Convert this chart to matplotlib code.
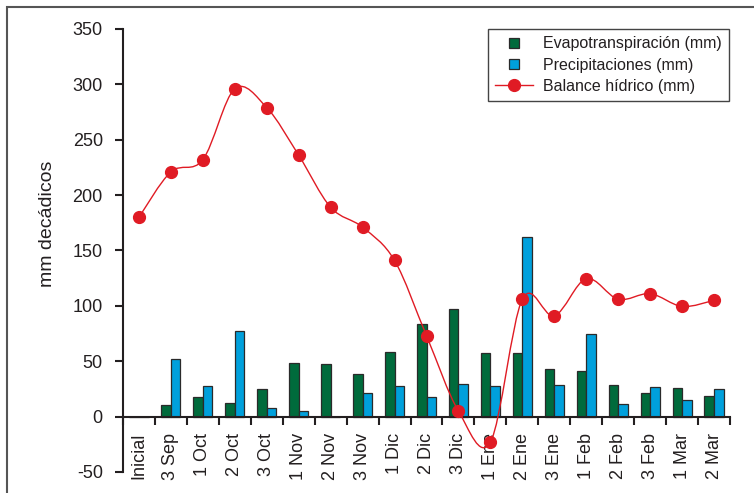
import numpy as np
import matplotlib
matplotlib.use('Agg')
from matplotlib import pyplot as plt
from matplotlib.path import Path
from matplotlib.patches import PathPatch, Rectangle
from matplotlib.lines import Line2D

plt.rcParams['font.family'] = ['Liberation Sans', 'DejaVu Sans']
plt.rcParams['axes.unicode_minus'] = False

periodos = ['Inicial', '3 Sep', '1 Oct', '2 Oct', '3 Oct', '1 Nov', '2 Nov', '3 Nov',
            '1 Dic', '2 Dic', '3 Dic', '1 Ene', '2 Ene', '3 Ene', '1 Feb', '2 Feb',
            '3 Feb', '1 Mar', '2 Mar']
evapo = [0, 10.5, 18, 12.6, 25.3, 48.4, 47.2, 38.8, 58.4, 83.6, 96.9, 57.2, 57.2,
         42.7, 40.9, 28.9, 21.4, 26.2, 18.4]
precip = [0, 51.7, 27.7, 77.3, 8.1, 5.1, 0, 21.4, 27.7, 17.4, 29.2, 27.4, 162,
          28.9, 74.6, 11.4, 26.5, 15, 25]
balance = [180, 221, 232, 296, 279, 236, 189, 171, 141, 73, 5, -23, 106, 91, 124.5,
           106, 111, 99.5, 105]

verde = '#006b3c'
azul = '#00a0dc'
rojo = '#e01b24'
oscuro = '#231f20'

fig = plt.figure(figsize=(7.54, 4.93), dpi=100)
ax = fig.add_axes([0.1631, 0.0426, 0.8051, 0.8986])

x = np.arange(len(periodos))
w = 0.3
ax.bar(x - w / 2, evapo, w, color=verde, edgecolor='#2a2a2a', linewidth=0.9, zorder=2)
ax.bar(x + w / 2, precip, w, color=azul, edgecolor='#2a2a2a', linewidth=0.9, zorder=2)

# smoothed line (Catmull-Rom as bezier segments)
pts = np.column_stack([x, balance]).astype(float)
ext = np.vstack([pts[0], pts, pts[-1]])
verts = [tuple(pts[0])]
codes = [Path.MOVETO]
for i in range(len(pts) - 1):
    p0, p1, p2, p3 = ext[i], ext[i + 1], ext[i + 2], ext[i + 3]
    c1 = p1 + (p2 - p0) / 6
    c2 = p2 - (p3 - p1) / 6
    verts += [tuple(c1), tuple(c2), tuple(p2)]
    codes += [Path.CURVE4] * 3
ax.add_patch(PathPatch(Path(verts, codes), fill=False, edgecolor=rojo, lw=1.0, zorder=3))
ax.plot(x, balance, ls='none', marker='o', ms=8.5, color=rojo, zorder=4)

ax.set_xlim(-0.5, 18.5)
ax.set_ylim(-50, 350)
ax.set_yticks(np.arange(-50, 351, 50))
ax.set_xticks(x)
ax.set_xticks(np.arange(-0.5, 19, 1), minor=True)

for s in ['top', 'right']:
    ax.spines[s].set_visible(False)
ax.spines['bottom'].set_position(('data', 0))
ax.spines['bottom'].set_linewidth(1.5)
ax.spines['left'].set_linewidth(1.5)
ax.spines['bottom'].set_color(oscuro)
ax.spines['left'].set_color(oscuro)

ax.tick_params(axis='x', which='major', length=0, pad=11.5, labelsize=13,
               labelcolor=oscuro, labelrotation=90)
ax.tick_params(axis='x', which='minor', length=6, width=1.5, color=oscuro, direction='out')
ax.tick_params(axis='y', length=6, width=1.5, color=oscuro, pad=8.5, labelsize=13,
               labelcolor=oscuro)
ax.set_xticklabels(periodos)
for t in ax.get_xticklabels():
    t.set_va('top')
    t.set_ha('center')

fig.text(47.5 / 754, 1 - 223.5 / 493, 'mm decádicos', rotation=90, ha='center',
         va='center', fontsize=14, color=oscuro)

handles = [
    Line2D([], [], ls='none', marker='s', ms=7, mfc=verde, mec='#2a2a2a', mew=0.9),
    Line2D([], [], ls='none', marker='s', ms=7, mfc=azul, mec='#2a2a2a', mew=0.9),
    Line2D([], [], color=rojo, lw=1.0, marker='o', ms=8.5),
]
leg = ax.legend(handles, ['Evapotranspiración (mm)', 'Precipitaciones (mm)',
                          'Balance hídrico (mm)'],
                loc='upper right', bbox_to_anchor=(0.998, 1.0), borderaxespad=0,
                fontsize=11.5, fancybox=False, framealpha=1, edgecolor='#444444',
                handlelength=2.4, handletextpad=0.6, labelspacing=0.4, borderpad=0.45)
leg.get_frame().set_linewidth(1.0)
for t in leg.get_texts():
    t.set_color(oscuro)

# outer frame
fig.patches.append(Rectangle((6.5 / 754, -0.2), 1.5, 1 - 6.7 / 493 + 0.2,
                             transform=fig.transFigure, fill=False,
                             edgecolor='#555555', lw=1.5))

fig.savefig('out.png', dpi=100)
